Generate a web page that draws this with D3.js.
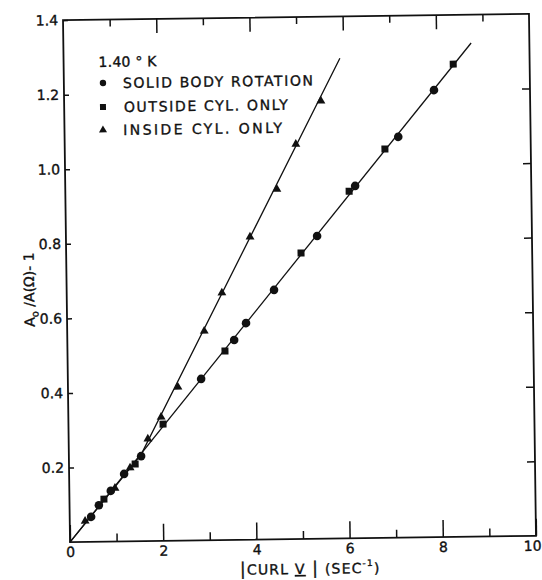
<!DOCTYPE html>
<html>
<head>
<meta charset="utf-8">
<script src="https://cdn.jsdelivr.net/npm/d3@7"></script>
<style>
  body { margin: 0; background: #fff; }
  svg { display: block; }
  text { font-family: "DejaVu Sans", sans-serif; fill: #111; stroke: #111; stroke-width: 0.35px; }
</style>
</head>
<body>
<script>
// values
const solidX = [0.46, 0.63, 0.89, 1.18, 1.55, 2.86, 3.58, 3.84, 4.45, 5.39, 6.22, 7.16, 7.94];
const solidY = [0.067, 0.098, 0.136, 0.181, 0.228, 0.433, 0.536, 0.581, 0.669, 0.812, 0.945, 1.075, 1.199];

const outsideX = [0.74, 1.42, 2.03, 3.38, 5.04, 6.09, 6.87, 8.36];
const outsideY = [0.114, 0.207, 0.313, 0.507, 0.767, 0.931, 1.043, 1.268];

const insideX = [0.33, 0.98, 1.31, 1.70, 1.99, 2.36, 2.94, 3.33, 3.95, 4.54, 4.96, 5.51];
const insideY = [0.056, 0.143, 0.197, 0.274, 0.332, 0.412, 0.561, 0.663, 0.812, 0.939, 1.059, 1.174];

// the two hand drawn lines
const fitSolidX = [0, 8.75];
const fitSolidY = [0, 1.324];
const fitInsideX = [0, 1.55, 5.93];
const fitInsideY = [0, 0.232, 1.288];

// ticks and labels
const xMajor = [0, 2, 4, 6, 8, 10];
const xMinor = [1, 3, 5, 7, 9];
const yTicks = [0.2, 0.4, 0.6, 0.8, 1.0, 1.2, 1.4];
const tempLabel = '1.40 ° K';
const legendLabels = ['SOLID BODY ROTATION', 'OUTSIDE CYL. ONLY', 'INSIDE CYL. ONLY'];

const width = 542;
const height = 580;
const plotLeft = 66.5, plotRight = 532.5, plotTop = 17, plotBottom = 539;

const svg = d3.select('body').append('svg').attr('width', width).attr('height', height);
svg.append('rect').attr('width', width).attr('height', height).attr('fill', '#fff');

// the scan is a little tilted, so the whole chart is turned a bit
const chart = svg.append('g').attr('transform', 'rotate(-0.77 299.5 278)');

const x = d3.scaleLinear().domain([0, 10]).range([plotLeft, plotRight]);
const y = d3.scaleLinear().domain([0, 1.4]).range([plotBottom, plotTop]);

function styleAxis(g) {
  g.select('.domain').remove();
  g.attr('font-family', 'DejaVu Sans').attr('font-size', 14).attr('color', '#111');
  g.selectAll('line').attr('stroke-width', 1.5);
}

// bottom: labelled even ticks + short odd ticks, all pointing inside
chart.append('g')
  .attr('transform', `translate(0,${plotBottom})`)
  .call(d3.axisBottom(x).tickValues(xMajor).tickSizeInner(-17).tickSizeOuter(0).tickPadding(5).tickFormat(d3.format('d')))
  .call(styleAxis)
  .call(g => g.selectAll('text').filter(d => d === 10).attr('dx', -4));
chart.append('g')
  .attr('transform', `translate(0,${plotBottom})`)
  .call(d3.axisBottom(x).tickValues(xMinor).tickSize(-8).tickFormat(''))
  .call(styleAxis);

// top
chart.append('g')
  .attr('transform', `translate(0,${plotTop})`)
  .call(d3.axisTop(x).tickValues(xMajor.slice(1, -1)).tickSize(-14).tickFormat(''))
  .call(styleAxis);
chart.append('g')
  .attr('transform', `translate(0,${plotTop})`)
  .call(d3.axisTop(x).tickValues(xMinor).tickSize(-7).tickFormat(''))
  .call(styleAxis);

// left with labels
chart.append('g')
  .attr('transform', `translate(${plotLeft},0)`)
  .call(d3.axisLeft(y).tickValues(yTicks).tickSizeInner(-5).tickSizeOuter(0).tickPadding(5).tickFormat(d3.format('.1f')))
  .call(styleAxis);

// right
chart.append('g')
  .attr('transform', `translate(${plotRight},0)`)
  .call(d3.axisRight(y).tickValues(yTicks.slice(0, -1)).tickSize(-8).tickFormat(''))
  .call(styleAxis);

// frame
chart.append('rect')
  .attr('x', plotLeft).attr('y', plotTop)
  .attr('width', plotRight - plotLeft).attr('height', plotBottom - plotTop)
  .attr('fill', 'none').attr('stroke', '#111').attr('stroke-width', 1.8);

// fit lines
const line = d3.line().x(d => x(d[0])).y(d => y(d[1]));
chart.append('path')
  .datum(d3.zip(fitSolidX, fitSolidY))
  .attr('d', line).attr('fill', 'none').attr('stroke', '#111').attr('stroke-width', 1.3);
chart.append('path')
  .datum(d3.zip(fitInsideX, fitInsideY))
  .attr('d', line).attr('fill', 'none').attr('stroke', '#111').attr('stroke-width', 1.3);

// markers
function drawPoints(xs, ys, type, size) {
  chart.append('g').selectAll('path')
    .data(d3.zip(xs, ys))
    .enter()
    .append('path')
    .attr('transform', d => `translate(${x(d[0])},${y(d[1])})`)
    .attr('d', d3.symbol().type(type).size(size))
    .attr('fill', '#111');
}
drawPoints(solidX, solidY, d3.symbolCircle, 58);
drawPoints(outsideX, outsideY, d3.symbolSquare, 49);
drawPoints(insideX, insideY, d3.symbolTriangle, 34);

// legend
chart.append('text')
  .attr('x', 101.4).attr('y', 64.3)
  .attr('font-size', 14)
  .attr('textLength', 58).attr('lengthAdjust', 'spacing')
  .text(tempLabel);

const legendTypes = [d3.symbolCircle, d3.symbolSquare, d3.symbolTriangle];
const legendSizes = [32, 36, 28];
const legendRows = [[105.6, 80.4, 125.6, 85.6, 190], [105.3, 104.4, 126.2, 109.6, 164], [105, 127.4, 125.1, 132.6, 159]];

legendLabels.forEach((label, i) => {
  const r = legendRows[i];
  chart.append('path')
    .attr('transform', `translate(${r[0]},${r[1]})`)
    .attr('d', d3.symbol().type(legendTypes[i]).size(legendSizes[i]))
    .attr('fill', '#111');
  chart.append('text')
    .attr('x', r[2]).attr('y', r[3])
    .attr('font-size', 14)
    .attr('textLength', r[4]).attr('lengthAdjust', 'spacing')
    .text(label);
});

// y axis title
const yTitle = chart.append('text')
  .attr('transform', 'translate(34,286) rotate(-90)')
  .attr('text-anchor', 'middle')
  .attr('font-size', 14);
yTitle.append('tspan').text('A');
yTitle.append('tspan').attr('font-size', 10).attr('dy', 4).text('o');
yTitle.append('tspan').attr('dy', -4).text(' /A(Ω)- 1');

// x axis title
const xTitle = chart.append('text')
  .attr('x', 236).attr('y', 574)
  .attr('font-size', 14)
  .attr('letter-spacing', 1.2);
xTitle.append('tspan').attr('font-size', 17).text('|');
xTitle.append('tspan').text('CURL  ');
xTitle.append('tspan').attr('text-decoration', 'underline').text('V');
xTitle.append('tspan').attr('font-size', 17).text(' |');
xTitle.append('tspan').text(' (SEC');
xTitle.append('tspan').attr('font-size', 9).attr('dy', -7).text('-1');
xTitle.append('tspan').attr('dy', 7).text(')');
</script>
</body>
</html>
